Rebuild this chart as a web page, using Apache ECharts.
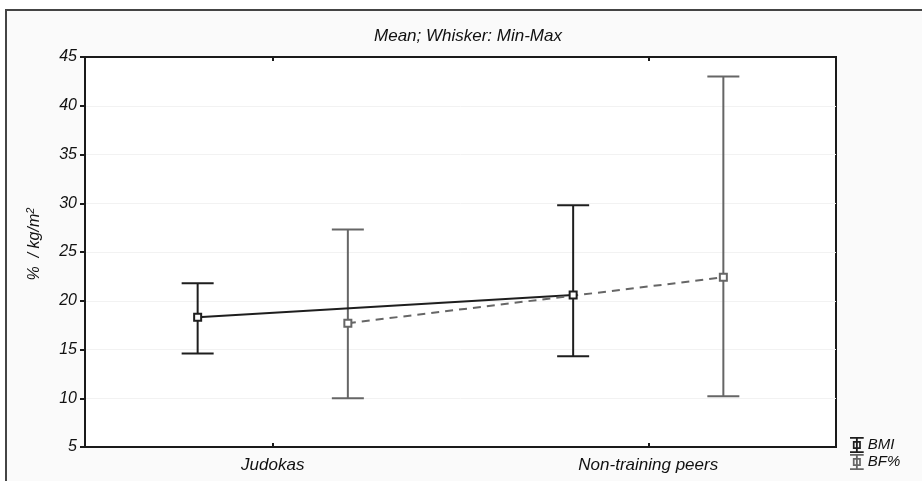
<!DOCTYPE html>
<html>
<head>
<meta charset="utf-8">
<script src="https://cdn.jsdelivr.net/npm/echarts@6/dist/echarts.min.js"></script>
<style>
  html, body { margin: 0; padding: 0; background: #fff; }
  .frame {
    position: absolute;
    left: 5px;
    top: 9px;
    width: 930px;
    height: 490px;
    border-top: 2px solid #444;
    border-left: 2px solid #444;
    background: #fafafa;
  }
  #chart { position: absolute; left: 0; top: 0; width: 922px; height: 481px; }
</style>
</head>
<body>
<div class="frame"></div>
<div id="chart"></div>
<script>
var groups = ["Judokas", "Non-training peers"];
var yTicks = [5, 10, 15, 20, 25, 30, 35, 40, 45];
// BMI
var bmiMean = [18.3, 20.6];
var bmiMin = [14.6, 14.3];
var bmiMax = [21.8, 29.8];
// BF%
var bfMean = [17.7, 22.4];
var bfMin = [10.0, 10.2];
var bfMax = [27.3, 43.0];

var offset = 0.2;
var font = "Liberation Sans";
var bmiColor = "#1e1e1e";
var bfColor = "#666666";

function pts(vals, shift) {
  return vals.map(function (v, i) { return [i + 1 + shift, v]; });
}
function whiskers(mins, maxs, shift) {
  return mins.map(function (v, i) { return [i + 1 + shift, v, maxs[i]]; });
}
function whiskerItem(color) {
  return function (params, api) {
    var lo = api.coord([api.value(0), api.value(1)]);
    var hi = api.coord([api.value(0), api.value(2)]);
    var hw = 16;
    var st = { stroke: color, lineWidth: 2 };
    return {
      type: "group",
      children: [
        { type: "line", shape: { x1: lo[0], y1: lo[1], x2: hi[0], y2: hi[1] }, style: st },
        { type: "line", shape: { x1: lo[0] - hw, y1: lo[1], x2: lo[0] + hw, y2: lo[1] }, style: st },
        { type: "line", shape: { x1: hi[0] - hw, y1: hi[1], x2: hi[0] + hw, y2: hi[1] }, style: st },
      ],
    };
  };
}

var legendIcon =
  "path://M0,0H12V1.6H0Z M0,12.4H12V14H0Z M5.2,1.6H6.8V12.4H5.2Z M2.5,3.5H9.5V10.5H2.5Z M4,5V9H8V5Z";

var chart = echarts.init(document.getElementById("chart"));
var option = {
  backgroundColor: "transparent",
  animation: false,
  title: {
    text: "Mean; Whisker: Min-Max",
    left: 463,
    textAlign: "center",
    top: 23,
    textStyle: { fontFamily: font, fontStyle: "italic", fontWeight: "normal", fontSize: 17, color: "#111" },
  },
  grid: {
    left: 85,
    right: 86,
    top: 57,
    bottom: 34,
    show: true,
    backgroundColor: "#fff",
    borderColor: "#1a1a1a",
    borderWidth: 2,
  },
  legend: {
    orient: "vertical",
    left: 845,
    top: 432,
    itemWidth: 14,
    itemHeight: 16,
    itemGap: 1,
    selectedMode: false,
    textStyle: { fontFamily: font, fontStyle: "italic", fontSize: 15, color: "#111", padding: [0, 0, 0, -1] },
    data: [
      { name: "BMI", icon: legendIcon, itemStyle: { color: bmiColor, borderWidth: 0 } },
      { name: "BF%", icon: legendIcon, itemStyle: { color: bfColor, borderWidth: 0 } },
    ],
  },
  xAxis: [
    {
      type: "category",
      data: groups,
      position: "bottom",
      axisLine: { show: true, lineStyle: { color: "#1a1a1a", width: 2 } },
      axisTick: { show: true, inside: true, alignWithLabel: true, length: 4, lineStyle: { color: "#1a1a1a", width: 2 } },
      axisLabel: { fontFamily: font, fontStyle: "italic", fontSize: 17, color: "#111", margin: 10 },
      splitLine: { show: false },
    },
    {
      type: "category",
      data: groups,
      position: "top",
      axisLine: { show: true, lineStyle: { color: "#1a1a1a", width: 2 } },
      axisTick: { show: true, inside: true, alignWithLabel: true, length: 4, lineStyle: { color: "#1a1a1a", width: 2 } },
      axisLabel: { show: false },
    },
    {
      type: "value",
      min: 0.5,
      max: 2.5,
      show: false,
    },
  ],
  yAxis: {
    type: "value",
    min: yTicks[0],
    max: yTicks[yTicks.length - 1],
    interval: 5,
    name: "%  / kg/m{sup|2}",
    nameLocation: "middle",
    nameGap: 41,
    nameTextStyle: {
      fontFamily: font,
      fontStyle: "italic",
      fontSize: 16,
      color: "#111",
      padding: [0, 0, 0, 16],
      rich: { sup: { fontFamily: font, fontStyle: "italic", fontSize: 11, verticalAlign: "top", padding: [0, 0, 8, 0], color: "#111" } },
    },
    axisLine: { show: true, lineStyle: { color: "#1a1a1a", width: 2 } },
    axisTick: { show: true, length: 5, lineStyle: { color: "#1a1a1a", width: 2 } },
    axisLabel: { fontFamily: font, fontStyle: "italic", fontSize: 16, color: "#111", margin: 8 },
    splitLine: { show: true, lineStyle: { color: "#f2f2f2", width: 1 } },
  },
  series: [
    {
      type: "custom",
      xAxisIndex: 2,
      renderItem: whiskerItem(bmiColor),
      data: whiskers(bmiMin, bmiMax, -offset),
      z: 2,
    },
    {
      type: "custom",
      xAxisIndex: 2,
      renderItem: whiskerItem(bfColor),
      data: whiskers(bfMin, bfMax, offset),
      z: 2,
    },
    {
      name: "BMI",
      type: "line",
      xAxisIndex: 2,
      data: pts(bmiMean, -offset),
      symbol: "rect",
      symbolSize: 7,
      lineStyle: { color: bmiColor, width: 2 },
      itemStyle: { color: "#fff", borderColor: bmiColor, borderWidth: 2 },
      z: 3,
    },
    {
      name: "BF%",
      type: "line",
      xAxisIndex: 2,
      data: pts(bfMean, offset),
      symbol: "rect",
      symbolSize: 7,
      lineStyle: { color: bfColor, width: 2, type: [8, 6] },
      itemStyle: { color: "#fff", borderColor: bfColor, borderWidth: 2 },
      z: 3,
    },
  ],
};
chart.setOption(option);
</script>
</body>
</html>
